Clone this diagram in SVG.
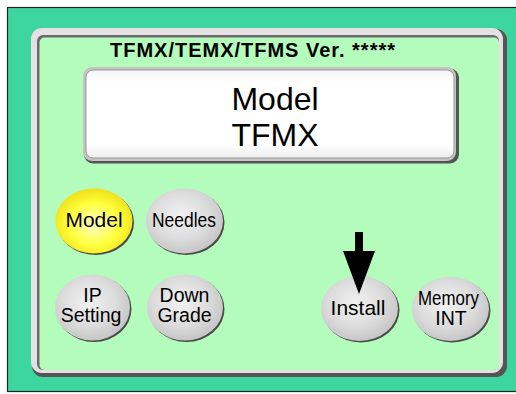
<svg xmlns="http://www.w3.org/2000/svg" width="516" height="394" viewBox="0 0 516 394">
<style>
.btxt{font-family:"Liberation Sans",Arial,sans-serif;font-size:21px;fill:#000;text-anchor:middle}
.b2{font-size:19.5px}
.shadow{fill:#4a4a4a}
.grey{fill:url(#gGrey)}
.yellow{fill:url(#gYellow)}
</style>
<defs>
<radialGradient id="gGrey" cx="45%" cy="42%" r="60%">
<stop offset="0" stop-color="#f2f2f2"/>
<stop offset="0.6" stop-color="#dcdcdc"/>
<stop offset="1" stop-color="#c4c4c4"/>
</radialGradient>
<radialGradient id="gYellow" cx="50%" cy="55%" r="60%">
<stop offset="0" stop-color="#ffffc8"/>
<stop offset="0.55" stop-color="#ffff3c"/>
<stop offset="1" stop-color="#ecd810"/>
</radialGradient>
<linearGradient id="gWhite" x1="0" y1="0" x2="0" y2="1">
<stop offset="0" stop-color="#f4f4f4"/>
<stop offset="0.15" stop-color="#ffffff"/>
<stop offset="0.85" stop-color="#ffffff"/>
<stop offset="1" stop-color="#ececec"/>
</linearGradient>
</defs>
<rect width="516" height="394" fill="#ffffff"/>
<rect x="7.5" y="7.5" width="514" height="384" fill="#3dd6a0" stroke="#222" stroke-width="1.2"/>
<g id="panel">
<rect x="32" y="29" width="475" height="348" rx="11" fill="#555"/>
<rect x="31" y="28" width="472" height="345" rx="11" fill="#e4e0e4"/>
<rect x="37" y="35" width="462" height="335" rx="6" fill="#6a6a6a"/>
<rect x="39.5" y="37.5" width="459.5" height="332.5" rx="5" fill="#b4fcbc"/>
<text x="252.5" y="56.5" font-family="'Liberation Sans',Arial,sans-serif" font-weight="bold" font-size="20" fill="#000" text-anchor="middle" textLength="285">TFMX/TEMX/TFMS Ver. *****</text>
</g>
<g id="display">
<rect x="84" y="68.5" width="375" height="95" rx="9" fill="#555"/>
<rect x="83" y="67" width="373" height="94" rx="9" fill="#c4c4c4"/>
<rect x="86" y="70" width="368" height="88" rx="7" fill="url(#gWhite)" stroke="#999" stroke-width="1"/>
<text x="275" y="110" font-family="'Liberation Sans',Arial,sans-serif" font-size="32" fill="#000" text-anchor="middle">Model</text>
<text x="275" y="146" font-family="'Liberation Sans',Arial,sans-serif" font-size="32" fill="#000" text-anchor="middle">TFMX</text>
</g>
<g id="btn-model">
<ellipse class="shadow" cx="95.5" cy="222.5" rx="38.5" ry="32.5"/>
<ellipse class="yellow" cx="94" cy="221" rx="38.5" ry="32.5"/>
<text class="btxt" x="94" y="227">Model</text>
</g>
<g id="btn-needles">
<ellipse class="shadow" cx="186" cy="222.5" rx="38.5" ry="32.5"/>
<ellipse class="grey" cx="184.5" cy="221" rx="38.5" ry="32.5"/>
<text class="btxt" x="184" y="227" textLength="64" lengthAdjust="spacingAndGlyphs">Needles</text>
</g>
<g id="btn-ip">
<ellipse class="shadow" cx="94" cy="309" rx="37.5" ry="33"/>
<ellipse class="grey" cx="92.5" cy="307.5" rx="37.5" ry="33"/>
<text class="btxt b2" x="92.5" y="302">IP</text>
<text class="btxt b2" x="91" y="322">Setting</text>
</g>
<g id="btn-downgrade">
<ellipse class="shadow" cx="186.5" cy="309" rx="38" ry="33"/>
<ellipse class="grey" cx="185" cy="307.5" rx="38" ry="33"/>
<text class="btxt b2" x="184.5" y="302">Down</text>
<text class="btxt b2" x="184.5" y="322">Grade</text>
</g>
<g id="btn-install">
<ellipse class="shadow" cx="361" cy="310" rx="38.5" ry="32.5"/>
<ellipse class="grey" cx="359.5" cy="308.5" rx="38.5" ry="32.5"/>
<text class="btxt" x="358" y="315">Install</text>
</g>
<g id="btn-memory">
<ellipse class="shadow" cx="452" cy="310.5" rx="38.5" ry="32"/>
<ellipse class="grey" cx="450.5" cy="309" rx="38.5" ry="32"/>
<text class="btxt" x="448.5" y="305" font-size="18" textLength="61" lengthAdjust="spacingAndGlyphs">Memory</text>
<text class="btxt b2" x="451" y="325">INT</text>
</g>
<g id="connectors">
<rect x="355" y="232" width="8" height="20" fill="#000"/>
<polygon points="343,251 375,251 359,294" fill="#000"/>
</g>
</svg>
